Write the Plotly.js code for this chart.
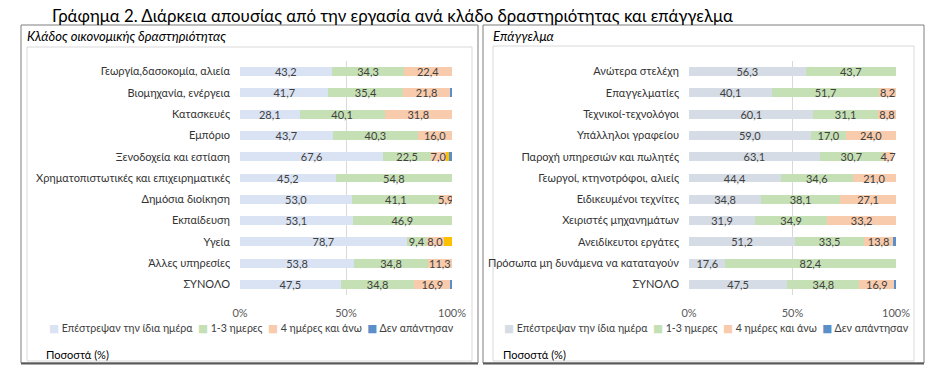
<!DOCTYPE html>
<html><head><meta charset="utf-8">
<script src="https://cdn.plot.ly/plotly-3.0.1.min.js"></script>
<style>body{margin:0;background:#fff}#chart{width:949px;height:377px}</style>
</head><body><div id="chart"></div>
<script>
// ---------- DATA ----------
var sectorCats = ["Γεωργία,δασοκομία, αλιεία","Βιομηχανία, ενέργεια","Κατασκευές","Εμπόριο","Ξενοδοχεία και εστίαση","Χρηματοπιστωτικές και επιχειρηματικές","Δημόσια διοίκηση","Εκπαίδευση","Υγεία","Άλλες υπηρεσίες","ΣΥΝΟΛΟ"];
var sectorSame   = [43.2, 41.7, 28.1, 43.7, 67.6, 45.2, 53.0, 53.1, 78.7, 53.8, 47.5];
var sector13     = [34.3, 35.4, 40.1, 40.3, 22.5, 54.8, 41.1, 46.9, 9.4, 34.8, 34.8];
var sector4plus  = [22.4, 21.8, 31.8, 16.0, 7.0, 0, 5.9, 0, 8.0, 11.3, 16.9];
var sectorOther  = [0, 0, 0, 0, 1.5, 0, 0, 0, 3.9, 0, 0];
var sectorNoAns  = [0, 1.1, 0, 0, 1.4, 0, 0, 0, 0, 0.1, 0.8];

var occCats = ["Ανώτερα στελέχη","Επαγγελματίες","Τεχνικοί-τεχνολόγοι","Υπάλληλοι γραφείου","Παροχή υπηρεσιών και πωλητές","Γεωργοί, κτηνοτρόφοι, αλιείς","Ειδικευμένοι τεχνίτες","Χειριστές μηχανημάτων","Ανειδίκευτοι εργάτες","Πρόσωπα μη δυνάμενα να καταταγούν","ΣΥΝΟΛΟ"];
var occSame   = [56.3, 40.1, 60.1, 59.0, 63.1, 44.4, 34.8, 31.9, 51.2, 17.6, 47.5];
var occ13     = [43.7, 51.7, 31.1, 17.0, 30.7, 34.6, 38.1, 34.9, 33.5, 82.4, 34.8];
var occ4plus  = [0, 8.2, 8.8, 24.0, 4.7, 21.0, 27.1, 33.2, 13.8, 0, 16.9];
var occNoAns  = [0, 0, 0, 0, 0, 0, 0, 0, 1.5, 0, 0.8];

var seriesNames = ["Επέστρεψαν την ίδια ημέρα", "1-3 ημερες", "4 ημέρες και άνω", "Δεν απάντησαν"];
var xTicks = [0, 50, 100];
var xTickLabels = ["0%", "50%", "100%"];

// ---------- STYLE ----------
var FONT = "Lato, 'Open Sans', 'DejaVu Sans', sans-serif";
var cSameL = "#dae3f3", cSameR = "#d6dce5", c13 = "#c5e0b4", c4 = "#f8cbad", cNo = "#5b8fc9", cYel = "#ffc000";
var TXT = "#404040";

function fmt(arr){ return arr.map(function(v){ return v > 0 ? v.toFixed(1).replace('.', ',') : ''; }); }

function bar(xv, cats, name, color, xa, ya, withText){
  var t = {
    type: 'bar', orientation: 'h', x: xv, y: cats, name: name,
    marker: {color: color, line: {width: 0}},
    xaxis: xa, yaxis: ya, showlegend: false, hoverinfo: 'skip'
  };
  if (withText){
    t.text = fmt(xv);
    t.texttemplate = '%{text}';
    t.textposition = 'inside';
    t.insidetextanchor = 'middle';
    t.constraintext = 'none';
    t.textangle = 0;
    t.textfont = {family: FONT, size: 11, color: TXT};
  } else {
    t.textposition = 'none';
  }
  return t;
}

var data = [
  bar(sectorSame, sectorCats, seriesNames[0], cSameL, 'x', 'y', true),
  bar(sector13, sectorCats, seriesNames[1], c13, 'x', 'y', true),
  bar(sector4plus, sectorCats, seriesNames[2], c4, 'x', 'y', true),
  bar(sectorOther, sectorCats, '', cYel, 'x', 'y', false),
  bar(sectorNoAns, sectorCats, seriesNames[3], cNo, 'x', 'y', false),
  bar(occSame, occCats, seriesNames[0], cSameR, 'x2', 'y2', true),
  bar(occ13, occCats, seriesNames[1], c13, 'x2', 'y2', true),
  bar(occ4plus, occCats, seriesNames[2], c4, 'x2', 'y2', true),
  bar(occNoAns, occCats, seriesNames[3], cNo, 'x2', 'y2', false)
];

var W = 949, H = 377;
function px(x){ return x / W; }
function py(y){ return 1 - y / H; }

var yDom = [py(295), py(61)];

function xax(dom, anchor){
  return {
    domain: dom, anchor: anchor, range: [0, 100], fixedrange: true,
    tickmode: 'array', tickvals: xTicks, ticktext: xTickLabels,
    showgrid: true, gridcolor: '#d9d9d9', gridwidth: 1,
    zeroline: false, showline: false, ticks: '', ticklabelstandoff: 10,
    tickfont: {family: FONT, size: 11, color: '#595959'}
  };
}
function yax(dom, anchor, cats){
  return {
    domain: dom, anchor: anchor, type: 'category', categoryorder: 'array', categoryarray: cats,
    range: [cats.length - 0.5, -0.5], showgrid: false, zeroline: false, showline: false,
    ticks: '', ticklabelstandoff: 9, fixedrange: true,
    tickfont: {family: FONT, size: 11, color: '#333333'}
  };
}

function legendText(firstColor){
  var cols = [firstColor, c13, c4, cNo];
  return seriesNames.map(function(n, i){
    return '<span style="color:' + cols[i] + '">■</span>\u00a0' + n;
  }).join('\u00a0\u00a0');
}

var annotations = [
  {text: 'Γράφημα 2. Διάρκεια απουσίας από την εργασία ανά κλάδο δραστηριότητας και επάγγελμα', x: px(50), y: py(16), xref: 'paper', yref: 'paper', xanchor: 'left', yanchor: 'middle', showarrow: false, font: {family: FONT, size: 16.8, color: '#000'}},
  {text: '<i>Κλάδος οικονομικής δραστηριότητας</i>', x: px(25), y: py(36), xref: 'paper', yref: 'paper', xanchor: 'left', yanchor: 'middle', showarrow: false, font: {family: FONT, size: 13, color: '#000'}},
  {text: '<i>Επάγγελμα</i>', x: px(491), y: py(36), xref: 'paper', yref: 'paper', xanchor: 'left', yanchor: 'middle', showarrow: false, font: {family: FONT, size: 13, color: '#000'}},
  {text: legendText(cSameL), x: px(252), y: py(328), xref: 'paper', yref: 'paper', xanchor: 'center', yanchor: 'middle', showarrow: false, font: {family: FONT, size: 10.6, color: TXT}},
  {text: legendText(cSameR), x: px(706), y: py(328), xref: 'paper', yref: 'paper', xanchor: 'center', yanchor: 'middle', showarrow: false, font: {family: FONT, size: 10.6, color: TXT}},
  {text: 'Ποσοστά (%)', x: px(44), y: py(354), xref: 'paper', yref: 'paper', xanchor: 'left', yanchor: 'middle', showarrow: false, font: {family: FONT, size: 11, color: '#000'}},
  {text: 'Ποσοστά (%)', x: px(501), y: py(354), xref: 'paper', yref: 'paper', xanchor: 'left', yanchor: 'middle', showarrow: false, font: {family: FONT, size: 11, color: '#000'}}
];

function rect(x0, y0, x1, y1, col, w){
  return {type: 'rect', xref: 'paper', yref: 'paper', x0: px(x0), x1: px(x1), y0: py(y1), y1: py(y0), line: {color: col, width: w}, fillcolor: 'rgba(0,0,0,0)', layer: 'below'};
}
function hline(x0, x1, y, col, w){
  return {type: 'line', xref: 'paper', yref: 'paper', x0: px(x0), x1: px(x1), y0: py(y), y1: py(y), line: {color: col, width: w}};
}

var shapes = [
  rect(27, 47, 472, 361, '#d9d9d9', 1),
  rect(493, 46, 914, 361, '#d9d9d9', 1),
  rect(21, 25, 478, 363, '#7f7f7f', 1),
  rect(483, 25, 924, 363, '#7f7f7f', 1),
  hline(21, 478, 363.5, '#595959', 2),
  hline(483, 924, 363.5, '#595959', 2)
];

var layout = {
  width: W, height: H, margin: {l: 0, r: 0, t: 0, b: 0},
  paper_bgcolor: '#fff', plot_bgcolor: 'rgba(0,0,0,0)',
  barmode: 'stack', bargap: 0.58, showlegend: false,
  font: {family: FONT, color: TXT},
  xaxis: xax([px(240), px(452)], 'y'),
  yaxis: yax(yDom, 'x', sectorCats),
  xaxis2: xax([px(689), px(896)], 'y2'),
  yaxis2: yax(yDom, 'x2', occCats),
  annotations: annotations, shapes: shapes
};

Plotly.newPlot('chart', data, layout, {displayModeBar: false, staticPlot: true});
</script></body></html>
